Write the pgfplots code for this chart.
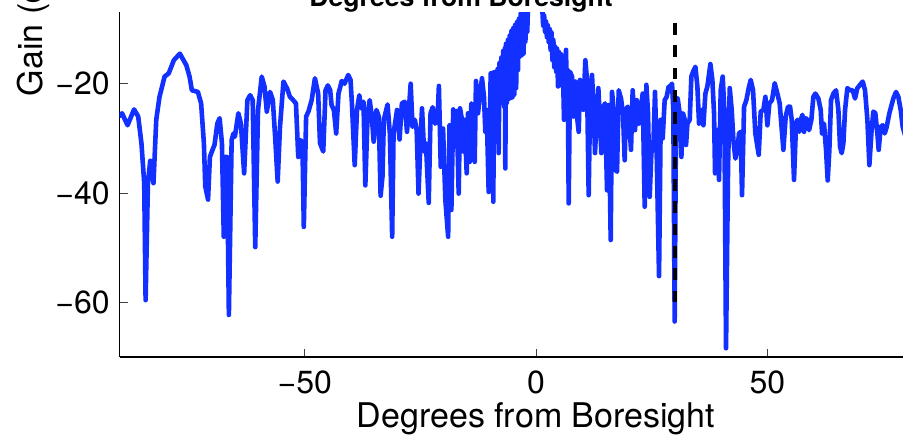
\documentclass[border=0pt]{standalone}
\usepackage{pgfplots}
\pgfplotsset{compat=1.18}
\usepackage{fontspec}
\setmainfont{TeX Gyre Heros}
\definecolor{mblue}{RGB}{18,48,255}
\pgfplotstableread{
x y
-90.0 -25.9
-89.5 -25.4
-88.3 -27.6
-86.9 -24.7
-86.0 -26.0
-85.3 -30.9
-84.7 -38.2
-84.4 -59.6
-83.9 -38.2
-83.4 -34.1
-82.7 -38.2
-82.1 -26.6
-81.4 -22.4
-80.3 -18.7
-79.4 -18.1
-78.3 -15.7
-77.0 -14.5
-75.6 -16.6
-74.9 -18.7
-74.4 -21.2
-73.1 -21.5
-72.4 -23.6
-71.8 -30.9
-71.5 -38.8
-70.9 -41.2
-70.5 -33.4
-69.8 -31.8
-69.5 -31.2
-68.9 -27.3
-68.4 -26.3
-67.9 -30.9
-67.5 -48.0
-67.2 -33.4
-66.8 -33.4
-66.4 -62.3
-65.8 -30.3
-65.4 -29.1
-65.1 -29.7
-64.35 -25.4
-63.8 -27.3
-63.1 -36.4
-62.4 -23.0
-61.8 -22.1
-61.25 -23.0
-60.7 -49.9
-60.1 -24.8
-59.3 -18.7
-58.7 -20.5
-58.2 -25.1
-57.5 -21.5
-56.9 -23.0
-56.4 -29.7
-55.85 -37.9
-55.35 -27.9
-54.6 -19.6
-53.8 -20.9
-53.2 -22.4
-52.5 -23.0
-51.9 -23.6
-51.4 -33.4
-50.9 -30.3
-50.5 -30.9
-50.2 -46.2
-49.7 -26.0
-49.2 -25.1
-48.5 -23.0
-47.8 -19.0
-47.1 -21.8
-46.7 -30.9
-46.0 -32.4
-45.5 -21.2
-45.0 -20.3
-44.5 -21.2
-44.2 -23.9
-43.7 -24.8
-43.2 -29.1
-42.7 -21.8
-42.0 -19.5
-41.4 -20.0
-40.6 -18.4
-40.1 -19.3
-39.8 -23.6
-39.2 -34.9
-38.7 -24.8
-38.2 -22.1
-37.8 -24.5
-37.3 -23.3
-36.9 -38.6
-36.4 -25.4
-35.96 -23.0
-35.5 -26.0
-35.1 -30.6
-34.5 -24.8
-34.0 -26.0
-33.6 -40.5
-33.2 -37.0
-32.9 -26.6
-32.1 -23.8
-31.6 -29.1
-31.1 -48.0
-30.8 -29.1
-30.05 -24.8
-29.5 -30.2
-29.0 -23.6
-28.4 -23.3
-27.9 -28.8
-27.5 -24.8
-27.1 -20.0
-26.7 -27.9
-26.2 -26.6
-25.8 -28.5
-25.4 -40.1
-25.0 -30.9
-24.65 -24.5
-24.2 -32.4
-23.8 -30.9
-23.2 -41.8
-22.8 -25.4
-22.35 -24.3
-21.8 -27.3
-21.3 -26.6
-21.0 -20.4
-20.6 -35.2
-20.1 -28.2
-19.6 -41.3
-19.0 -48.0
-18.7 -27.6
-18.3 -43.1
-17.9 -24.7
-17.37 -31.5
-17.15 -25.0
-16.72 -40.1
-16.43 -24.5
-16.07 -26.3
-15.71 -32.4
-15.42 -26.6
-14.99 -36.4
-14.70 -25.4
-14.34 -34.3
-13.98 -23.6
-13.62 -24.8
-13.26 -34.3
-12.98 -19.5
-12.54 -25.4
-12.18 -22.4
-11.68 -19.0
-11.25 -22.4
-10.96 -28.8
-10.67 -24.8
-10.24 -39.8
-9.8 -18.1
-9.6 -24.5
-9.4 -18.0
-9.23 -41.6
-9.1 -17.9
-8.9 -23.0
-8.7 -17.8
-8.5 -22.4
-8.3 -17.3
-8.08 -32.7
-7.9 -16.2
-7.7 -23.0
-7.5 -15.2
-7.3 -23.5
-7.1 -14.0
-6.9 -24.2
-6.75 -13.5
-6.64 -35.5
-6.5 -12.7
-6.3 -23.5
-6.1 -12.0
-5.9 -22.8
-5.7 -11.2
-5.5 -22.6
-5.3 -10.3
-5.1 -22.5
-4.9 -9.8
-4.7 -22.0
-4.5 -9.2
-4.3 -20.8
-4.1 -8.7
-3.9 -17.5
-3.7 -8.1
-3.5 -15.0
-3.3 -7.1
-3.1 -14.8
-2.9 -6.9
-2.7 -14.5
-2.5 -6.8
-2.3 -12.3
-2.1 -6.5
-1.9 -10.5
-1.74 -6.0
-1.0 -2.5
0.0 0.0
0.8 -2.0
1.36 -6.5
1.55 -9.4
1.75 -7.5
1.95 -10.5
2.15 -8.6
2.35 -11.5
2.55 -9.3
2.75 -12.4
2.95 -10.0
3.15 -13.8
3.35 -10.6
3.55 -15.7
3.75 -12.0
3.95 -17.0
4.15 -13.2
4.35 -17.8
4.55 -13.6
4.75 -20.5
4.95 -14.2
5.18 -20.3
5.4 -14.6
5.6 -19.5
5.76 -15.0
6.05 -26.6
6.33 -16.0
6.49 -13.8
6.70 -26.6
6.85 -17.5
7.06 -41.9
7.35 -17.8
7.78 -18.7
8.07 -26.0
8.50 -19.6
8.86 -26.0
9.22 -28.8
9.51 -19.3
9.94 -24.5
10.23 -24.8
10.66 -15.7
11.02 -19.3
11.38 -40.4
11.67 -24.2
12.10 -18.4
12.46 -24.8
12.75 -32.7
13.11 -26.0
13.47 -20.8
13.83 -27.3
14.12 -32.7
14.55 -24.2
14.91 -23.6
15.35 -39.5
15.71 -23.9
16.14 -48.6
16.43 -21.5
16.79 -24.8
17.15 -35.8
17.51 -36.1
17.87 -21.2
18.37 -22.7
18.80 -25.4
19.16 -34.0
19.45 -24.8
19.81 -24.2
20.17 -27.3
20.53 -32.1
20.89 -21.2
21.40 -28.5
21.76 -23.0
22.19 -27.3
22.62 -24.8
23.06 -21.8
23.49 -42.5
23.85 -20.2
24.21 -25.4
24.57 -40.7
24.93 -32.7
25.36 -31.5
25.72 -21.5
26.08 -32.7
26.59 -55.2
26.95 -26.6
27.38 -30.0
27.81 -23.0
28.24 -22.4
28.67 -20.5
28.96 -20.5
29.40 -20.0
29.68 -24.8
29.97 -63.5
30.26 -26.0
30.62 -22.7
31.06 -25.4
31.42 -33.4
31.78 -25.4
32.14 -26.6
32.43 -31.2
32.72 -27.3
33.22 -26.6
33.58 -18.7
33.94 -17.8
34.45 -16.9
34.88 -20.5
35.24 -27.3
35.74 -24.8
36.18 -27.6
36.61 -21.8
37.04 -20.5
37.69 -16.4
38.12 -19.3
38.48 -25.4
38.70 -36.4
39.06 -28.5
39.35 -28.5
39.56 -37.6
39.92 -21.2
40.35 -18.7
40.71 -24.8
41.07 -68.4
41.51 -35.2
41.87 -20.8
42.30 -24.8
42.66 -30.3
43.09 -33.7
43.52 -32.1
43.88 -29.1
44.24 -28.8
44.53 -40.4
44.97 -24.2
45.47 -23.0
45.97 -20.8
46.41 -19.3
46.91 -21.2
47.41 -29.1
48.14 -33.0
48.57 -25.1
49.14 -24.8
49.58 -22.4
50.01 -27.6
50.44 -23.6
51.02 -23.0
51.59 -19.9
52.17 -21.8
52.67 -23.6
53.47 -32.1
53.97 -26.0
54.48 -24.2
54.91 -24.2
55.27 -26.6
55.77 -37.6
56.21 -27.3
56.49 -26.6
56.93 -28.8
57.22 -26.6
57.58 -25.7
57.94 -28.8
58.30 -26.3
58.66 -26.6
59.02 -28.5
59.52 -26.6
59.95 -22.4
60.39 -21.8
61.03 -22.7
61.54 -24.8
61.83 -29.1
62.26 -27.3
62.69 -32.1
63.05 -37.7
63.41 -32.1
63.77 -23.0
64.28 -21.8
64.85 -21.2
65.36 -24.8
65.72 -31.5
66.08 -32.7
66.44 -30.9
66.80 -24.8
67.30 -20.8
67.88 -21.2
68.45 -21.2
68.96 -22.7
69.46 -20.8
70.04 -20.2
70.62 -19.6
71.12 -21.2
71.63 -26.6
72.06 -34.9
72.49 -29.1
72.92 -25.1
73.35 -25.4
73.79 -29.1
74.07 -32.1
74.51 -27.9
74.94 -27.6
75.37 -29.1
75.80 -27.9
76.38 -25.4
77.24 -22.7
77.82 -21.5
78.32 -22.4
78.83 -24.8
79.26 -27.9
79.8 -29.5
}\gain
\begin{document}
\begin{tikzpicture}
\useasboundingbox (0,0) rectangle (451.5pt,218pt);
\clip (0,0) rectangle (451.5pt,218pt);
\begin{axis}[
  at={(59.85pt,39.5pt)}, anchor=south west,
  width=416.34pt, height=172.5pt, scale only axis,
  xmin=-90, xmax=90, ymin=-70, ymax=-6.88,
  axis x line=bottom, axis y line=left,
  axis line style={-, black, line width=0.6pt},
  tick align=inside, major tick length=4pt,
  tick style={color=black!75, line width=0.5pt},
  xtick={-50,0,50}, xticklabels={−50,0,50},
  ytick={-60,-40,-20}, yticklabels={−60,−40,−20},
  ticklabel style={font=\fontsize{16}{19}\selectfont},
  xticklabel style={inner sep=0pt, anchor=base, yshift=-18.2pt},
  yticklabel style={inner sep=0pt, anchor=east, xshift=-4.85pt},
  xlabel={Degrees from Boresight}, ylabel={Gain (dB)},
  label style={font=\fontsize{17}{20}\selectfont},
  xlabel style={at={(axis description cs:0.5,0)}, anchor=base, yshift=-35pt},
  ylabel style={at={(axis description cs:-0.0925,0.736)}, anchor=base west},
  clip=true,
]
\addplot[mblue, line width=2.3pt, line join=round, line cap=round] table[x=x,y=y] {\gain};
\addplot[black, line width=2pt, dash pattern=on 5.85pt off 5.3pt] coordinates {(30,-60) (30,0)};
\end{axis}
\node[font=\bfseries\fontsize{13.3}{16}\selectfont, anchor=base] at (230.5pt,215pt) {Degrees from Boresight};
\end{tikzpicture}
\end{document}
